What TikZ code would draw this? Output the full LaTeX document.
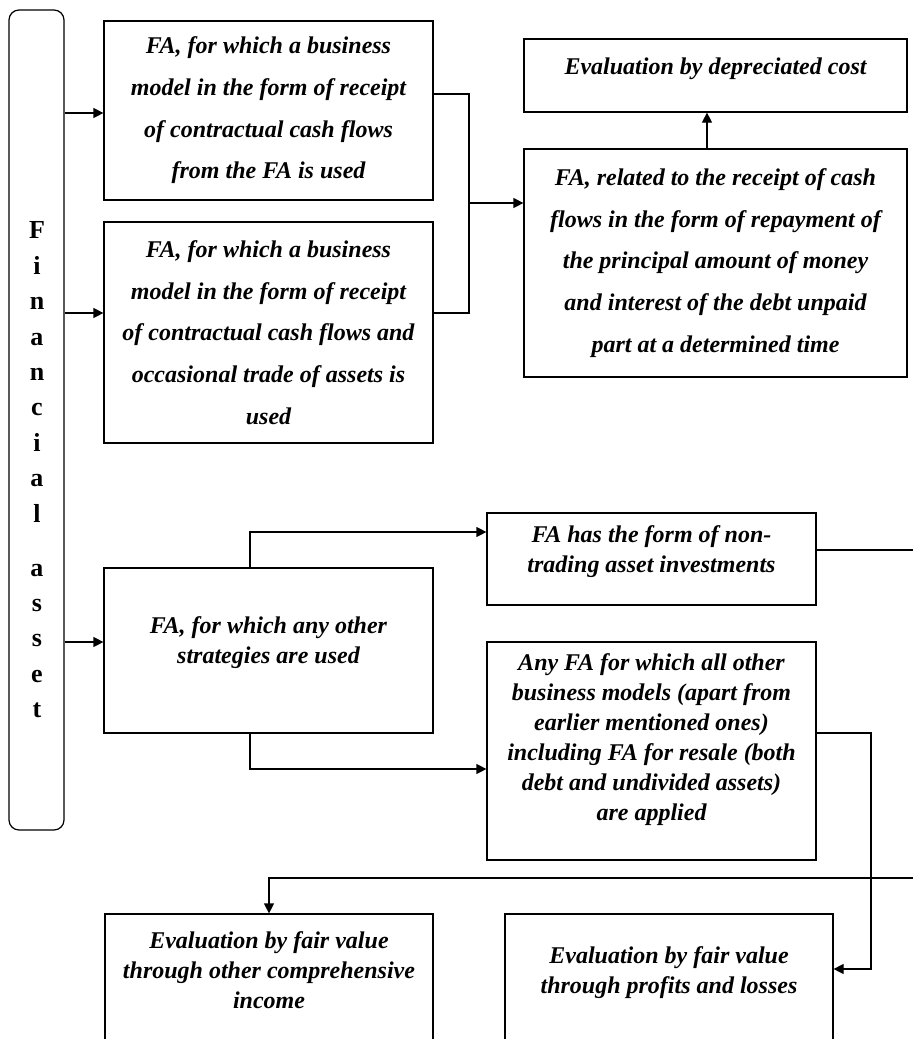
\documentclass[tikz,border=0pt]{standalone}
\usepackage{fontspec}
\setmainfont{Liberation Serif}
\usetikzlibrary{arrows.meta}

\begin{document}
\begin{tikzpicture}[x=0.5pt,y=-0.5pt,line width=0.6pt,>={Triangle[length=5pt,width=5pt]},
  blk/.style={draw,align=center,inner sep=0pt,
              font=\bfseries\itshape\fontsize{12}{15}\selectfont},
  roomy/.style={font=\bfseries\itshape\fontsize{12}{20.8}\selectfont},
  narrow/.style={minimum width=164.5pt}]
\useasboundingbox (0,0) rectangle (913,1039);
\clip (0,0) rectangle (913,1039);
\node[draw,rounded corners=5pt,minimum width=27.5pt,minimum height=410pt] (fa) at (36.5,420) {};
\node[font=\bfseries\fontsize{13}{17.7}\selectfont,align=center] (fatext) at (37,470)
  {F\\i\\n\\a\\n\\c\\i\\a\\l\\[9.3pt]a\\s\\s\\e\\t};
\node[blk,roomy,narrow,minimum height=89.5pt] (bm1) at (268.5,110.5)
  {FA, for which a business\\model in the form of receipt\\of contractual cash flows\\from the FA is used};
\node[blk,roomy,narrow,minimum height=110.5pt] (bm2) at (268.5,332.5)
  {FA, for which a business\\model in the form of receipt\\of contractual cash flows and\\occasional trade of assets is\\used};
\node[blk,minimum width=191.5pt,minimum height=36.5pt,text depth=9.5pt] (amort) at (715.5,75.5)
  {Evaluation by depreciated cost};
\node[blk,roomy,minimum width=191.5pt,minimum height=114pt] (sppi) at (715.5,263)
  {FA, related to the receipt of cash\\flows in the form of repayment of\\the principal amount of money\\and interest of the debt unpaid\\part at a determined time};
\node[blk,narrow,minimum height=82.5pt,text depth=10.5pt] (other) at (268.5,650.5)
  {FA, for which any other\\strategies are used};
\node[blk,narrow,minimum height=46pt,text depth=9.6pt] (nontr) at (651.5,559)
  {FA has the form of non-\\trading asset investments};
\node[blk,narrow,minimum height=109pt,text depth=13.6pt] (rest) at (651.5,751)
  {Any FA for which all other\\business models (apart from\\earlier mentioned ones)\\including FA for resale (both\\debt and undivided assets)\\are applied};
\node[blk,minimum width=164pt,minimum height=78pt,text depth=22pt] (fvoci) at (269,992)
  {Evaluation by fair value\\through other comprehensive\\income};
\node[blk,minimum width=164pt,minimum height=78pt,text depth=22pt] (fvpl) at (669,992)
  {Evaluation by fair value\\through profits and losses};
\coordinate (join) at (469,203);
\coordinate (turn) at (871,733);
\coordinate (edgeA) at (913,550);
\coordinate (edgeB) at (913,878);
\draw[->] (fa.east |- 0,113) -- (bm1.west |- 0,113);
\draw[->] (fa.east |- 0,313) -- (bm2.west |- 0,313);
\draw[->] (fa.east |- 0,642) -- (other.west |- 0,642);
\draw (bm1.east |- 0,94) -| (join) |- (bm2.east |- 0,313);
\draw[->] (join) -- (sppi.west |- join);
\draw[->] (sppi.north -| 707,0) -- (amort.south -| 707,0);
\draw[->] (other.north -| 250,0) |- (nontr.west |- 0,532);
\draw[->] (other.south -| 250,0) |- (rest.west |- 0,769);
\draw (nontr.east |- edgeA) -- (edgeA);
\draw[->] (rest.east |- turn) -- (turn) |- (fvpl.east |- 0,969);
\draw[->] (edgeB) -| (fvoci.north);
\end{tikzpicture}
\end{document}
